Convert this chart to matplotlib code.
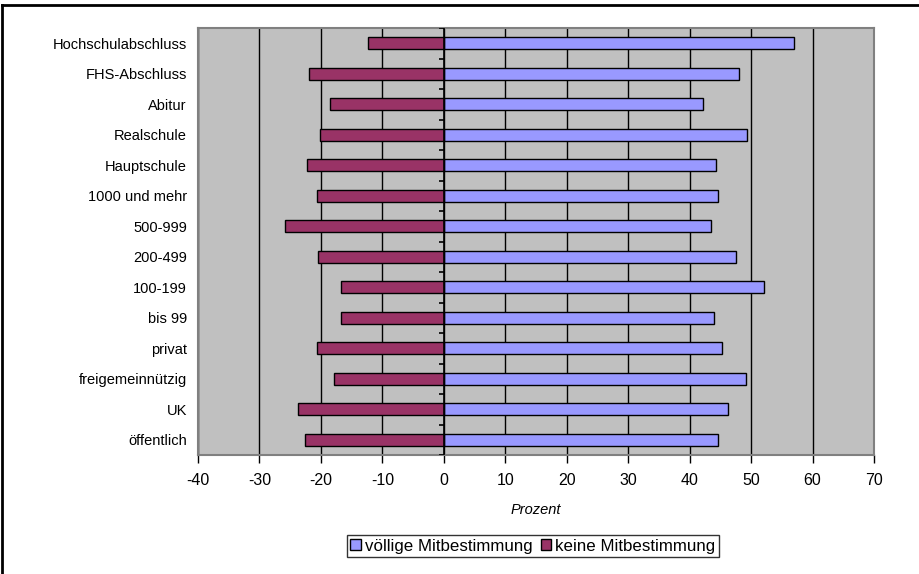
import matplotlib
matplotlib.use("Agg")
from matplotlib import pyplot as plt
from matplotlib.lines import Line2D

plt.rcParams['font.family'] = ['Liberation Sans', 'DejaVu Sans']

categories = ['öffentlich', 'UK', 'freigemeinnützig', 'privat', 'bis 99',
              '100-199', '200-499', '500-999', '1000 und mehr', 'Hauptschule',
              'Realschule', 'Abitur', 'FHS-Abschluss', 'Hochschulabschluss']
voellig = [44.6, 46.3, 49.2, 45.2, 43.9, 52.1, 47.6, 43.5, 44.6, 44.3,
           49.3, 42.1, 48.1, 57.0]
keine = [-22.6, -23.7, -17.9, -20.7, -16.8, -16.7, -20.4, -25.8, -20.6, -22.2,
         -20.2, -18.5, -22.0, -12.4]
xticks = list(range(-40, 71, 10))

blue = '#9999FF'
red = '#993366'

fig = plt.figure(figsize=(9.2, 5.74), dpi=100)
ax = fig.add_axes([198 / 920, 1 - 455 / 574, 676 / 920, 427 / 574])
ax.set_facecolor('#C0C0C0')

y = list(range(len(categories)))
ax.barh(y, voellig, height=0.4, color=blue, edgecolor='black', linewidth=1,
        label='völlige Mitbestimmung', zorder=3)
ax.barh(y, keine, height=0.4, color=red, edgecolor='black', linewidth=1,
        label='keine Mitbestimmung', zorder=3)

ax.set_xlim(-40, 70)
ax.set_ylim(-0.5, len(categories) - 0.5)
ax.set_xticks(xticks)
ax.set_xticklabels([str(t) for t in xticks], fontsize=11.5)
ax.set_yticks(y)
ax.set_yticklabels(categories, fontsize=10.5)
ax.tick_params(axis='y', length=0, pad=8)
ax.tick_params(axis='x', length=6, width=1, color='black', direction='out', pad=7)
ax.grid(axis='x', color='black', linewidth=1, zorder=1)
for s in ax.spines.values():
    s.set_color('#808080')
    s.set_linewidth(1.5)

# vertical axis at zero with tick marks between categories
ax.axvline(0, color='black', linewidth=1.2, zorder=4)
bounds = [i - 0.5 for i in range(len(categories) + 1)]
ax.hlines(bounds, -0.8, 0, color='black', linewidth=1.2, zorder=4)

ax.set_xlabel('Prozent', fontsize=10.5, style='italic', labelpad=11)

handles = [plt.Rectangle((0, 0), 1, 1, facecolor=blue, edgecolor='black'),
           plt.Rectangle((0, 0), 1, 1, facecolor=red, edgecolor='black')]
leg = fig.legend(handles, ['völlige Mitbestimmung', 'keine Mitbestimmung'],
                 loc='center', bbox_to_anchor=(533 / 920, 1 - 546 / 574),
                 ncol=2, fontsize=12.2, frameon=True, fancybox=False,
                 handlelength=0.6, handleheight=0.6, handletextpad=0.25,
                 columnspacing=0.5, borderpad=0.2, borderaxespad=0)
leg.get_frame().set_edgecolor('black')
leg.get_frame().set_linewidth(1)

# outer chart frame (top and left edges visible)
fig.add_artist(Line2D([2.5 / 920, 1], [1 - 5 / 574, 1 - 5 / 574],
                      transform=fig.transFigure, color='black', linewidth=2))
fig.add_artist(Line2D([2.5 / 920, 2.5 / 920], [0, 1 - 5 / 574],
                      transform=fig.transFigure, color='black', linewidth=2))

fig.savefig('out.png', dpi=100)
